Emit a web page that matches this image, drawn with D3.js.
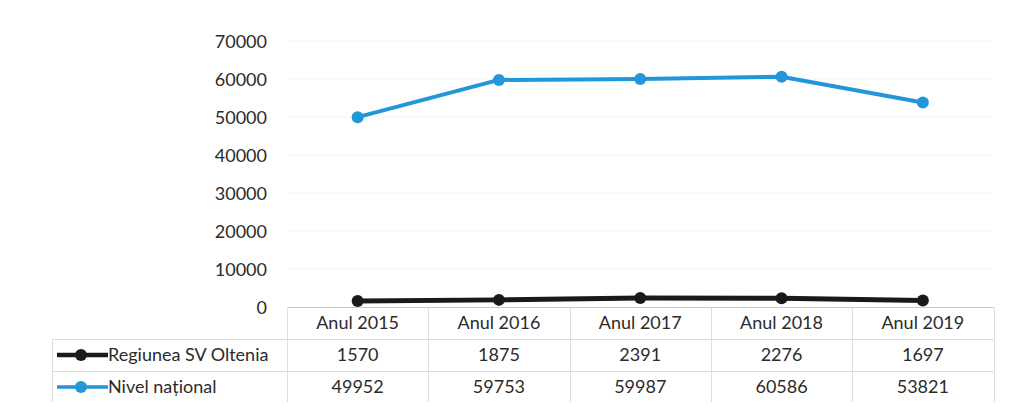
<!DOCTYPE html>
<html><head><meta charset="utf-8">
<script src="https://cdn.jsdelivr.net/npm/d3@7"></script>
<style>body{margin:0;background:#fff}svg{display:block}text{font-family:Lato,"Open Sans",sans-serif}</style>
</head><body>
<svg id="c" width="1009" height="407"></svg>
<script>
const categories = ["Anul 2015","Anul 2016","Anul 2017","Anul 2018","Anul 2019"];
const seriesNames = ["Regiunea SV Oltenia","Nivel național"];
const regiune = [1570,1875,2391,2276,1697];
const national = [49952,59753,59987,60586,53821];
const yTicks = [0,10000,20000,30000,40000,50000,60000,70000];
const colors = ["#1a1a1a","#2196d8"];

(function(){
const svg = d3.select("#c");
const pLeft = 287, pRight = 993.5, pTop = 41, pBottom = 307;
const x = d3.scaleBand().domain(categories).range([pLeft,pRight]);
const y = d3.scaleLinear().domain([0,70000]).range([pBottom,pTop]);
const txt = "#2b2b2b", fs = 18;

// gridlines
svg.append("g").selectAll("line").data(yTicks.slice(1)).join("line")
  .attr("x1",pLeft).attr("x2",pRight).attr("y1",d=>y(d)).attr("y2",d=>y(d))
  .attr("stroke","#f3f3f3").attr("stroke-width",1);

// y axis labels
const ya = svg.append("g").attr("transform",`translate(${pLeft-20},0)`)
  .call(d3.axisLeft(y).tickValues(yTicks).tickSize(0).tickPadding(0).tickFormat(d3.format("d")));
ya.select(".domain").remove();
ya.selectAll("text").attr("font-size",fs).attr("fill",txt).attr("font-family","Lato").attr("dy","0.35em");

// table grid
const rowH = [pBottom, 339, 371, 402];
const tg = svg.append("g").attr("stroke","#dedede").attr("stroke-width",1);
tg.append("line").attr("x1",pLeft).attr("x2",pRight).attr("y1",pBottom+0.5).attr("y2",pBottom+0.5).attr("stroke","#c8c8c8");
const bounds = categories.map(c=>x(c)).concat([pRight]);
tg.selectAll("line.v").data(bounds).join("line").attr("class","v")
  .attr("x1",d=>Math.round(d)+0.5).attr("x2",d=>Math.round(d)+0.5).attr("y1",pBottom).attr("y2",rowH[3]);
tg.append("line").attr("x1",52.5).attr("x2",52.5).attr("y1",rowH[1]).attr("y2",rowH[3]);
[rowH[1],rowH[2]].forEach(h=>tg.append("line").attr("x1",52).attr("x2",pRight).attr("y1",h+0.5).attr("y2",h+0.5));

// header
svg.append("g").selectAll("text").data(categories).join("text")
  .attr("x",d=>x(d)+x.bandwidth()/2).attr("y",323).attr("dy","0.35em")
  .attr("text-anchor","middle").attr("font-size",fs).attr("fill",txt).text(d=>d);

const all = [regiune,national];
all.forEach((vals,i)=>{
  const ry = i===0?355:387;
  svg.append("g").selectAll("text").data(vals).join("text")
    .attr("x",(d,j)=>x(categories[j])+x.bandwidth()/2).attr("y",ry).attr("dy","0.35em")
    .attr("text-anchor","middle").attr("font-size",fs).attr("fill",txt).text(d=>d);
  svg.append("line").attr("x1",57).attr("x2",108).attr("y1",ry).attr("y2",ry)
    .attr("stroke",colors[i]).attr("stroke-width",i===0?4.5:3.5);
  svg.append("circle").attr("cx",81).attr("cy",ry).attr("r",6).attr("fill",colors[i]);
  svg.append("text").attr("x",108).attr("y",ry).attr("dy","0.35em").attr("font-size",fs)
    .attr("fill",txt).text(seriesNames[i]);
});

const line = d3.line().x((d,j)=>x(categories[j])+x.bandwidth()/2).y(d=>y(d));
all.forEach((vals,i)=>{
  svg.append("path").datum(vals).attr("d",line).attr("fill","none")
    .attr("stroke",colors[i]).attr("stroke-width",i===0?5:4).attr("stroke-linejoin","round");
  svg.append("g").selectAll("circle").data(vals).join("circle")
    .attr("cx",(d,j)=>x(categories[j])+x.bandwidth()/2).attr("cy",d=>y(d)).attr("r",6)
    .attr("fill",colors[i]);
});
})();
</script>
</body></html>
